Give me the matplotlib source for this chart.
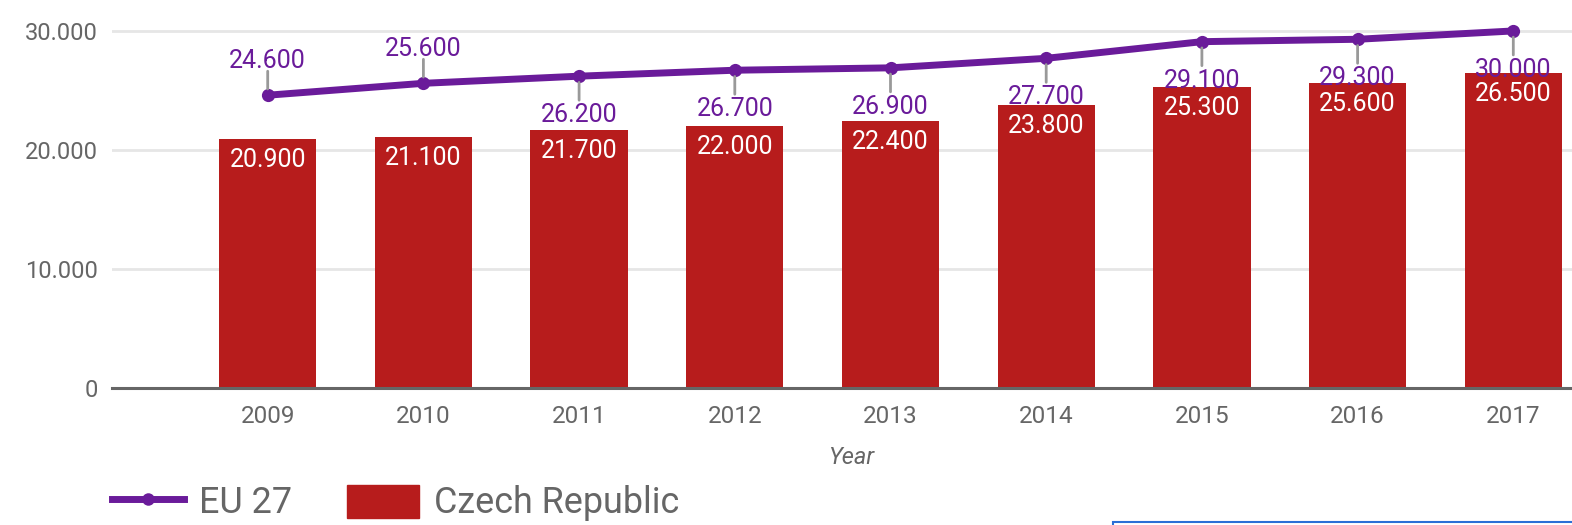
import matplotlib
matplotlib.use("Agg")
import matplotlib.pyplot as plt
from matplotlib.lines import Line2D
from matplotlib.patches import Patch, Rectangle

plt.rcParams['font.family'] = ['Roboto', 'DejaVu Sans']

years = ['2009', '2010', '2011', '2012', '2013', '2014', '2015', '2016', '2017']
eu27 = [24600, 25600, 26200, 26700, 26900, 27700, 29100, 29300, 30000]
czech = [20900, 21100, 21700, 22000, 22400, 23800, 25300, 25600, 26500]
eu_label_above = [True, True, False, False, False, False, False, False, False]
yticks = [0, 10000, 20000, 30000]
ytick_labels = ['0', '10.000', '20.000', '30.000']

purple = '#6A1B9A'
red = '#B71C1C'
gray = '#666666'


def fmt(v):
    return '{:,}'.format(v).replace(',', '.')


W, H = 1572, 525
fig = plt.figure(figsize=(W / 100, H / 100), dpi=100)
ax = fig.add_axes([112 / W, 1 - 388 / H, 1 - 112 / W, (388 - 10) / H])

x = list(range(len(years)))
ax.bar(x, czech, width=0.625, color=red, zorder=2)
ax.plot(x, eu27, color=purple, lw=5, marker='o', ms=9.5, mew=0, zorder=3)

# labels on the line, with small gray leaders
for i, v in enumerate(eu27):
    sign = 1 if eu_label_above[i] else -1
    ax.annotate('', xy=(i, v), xytext=(0, sign * 24), textcoords='offset pixels',
                arrowprops=dict(arrowstyle='-', color='#999999', lw=2,
                                shrinkA=0, shrinkB=4.5), zorder=4)
    ax.annotate(fmt(v), xy=(i, v), xytext=(0, 27 if sign > 0 else -46),
                textcoords='offset pixels', ha='center', va='baseline',
                fontsize=18, color=purple, zorder=6)

# labels inside the bars
for i, c in enumerate(czech):
    ax.annotate(fmt(c), xy=(i, c), xytext=(0, -28), textcoords='offset pixels',
                ha='center', va='baseline', fontsize=18, color='white', zorder=5)

ax.set_xlim(-1.0, 8.377)
ax.set_ylim(0, 31760)
ax.set_xticks(x, years)
ax.set_yticks(yticks, ytick_labels)
ax.tick_params(axis='x', length=0, pad=12, labelsize=17.5, labelcolor=gray)
ax.tick_params(axis='y', length=0, pad=10, labelsize=17, labelcolor=gray)
ax.yaxis.grid(True, color='#e6e6e6', lw=2)
ax.set_axisbelow(True)
for s in ['left', 'right', 'top']:
    ax.spines[s].set_visible(False)
ax.spines['bottom'].set_color(gray)
ax.spines['bottom'].set_linewidth(2.2)
ax.spines['bottom'].set_zorder(4)

fig.text(851 / W, 1 - 457 / H, 'Year', style='italic', ha='center', va='center',
         fontsize=17, color=gray)

handles = [Line2D([], [], color=purple, lw=5, marker='o', ms=9, mew=0),
           Patch(color=red)]
fig.legend(handles=handles, labels=['EU 27', 'Czech Republic'], loc='center left',
           bbox_to_anchor=(112 / W, 1 - 503 / H), ncol=2, frameon=False,
           fontsize=25.8, handlelength=2.0, handleheight=1.05, handletextpad=0.42,
           columnspacing=1.55, borderpad=0, borderaxespad=0, labelcolor=gray)

fig.add_artist(Rectangle((1113 / W, -0.05), 0.5, 0.05 + 1 - 522 / H,
                         transform=fig.transFigure, fill=False,
                         edgecolor='#2a6fd6', lw=1.5))

fig.savefig('out.png', dpi=100)
